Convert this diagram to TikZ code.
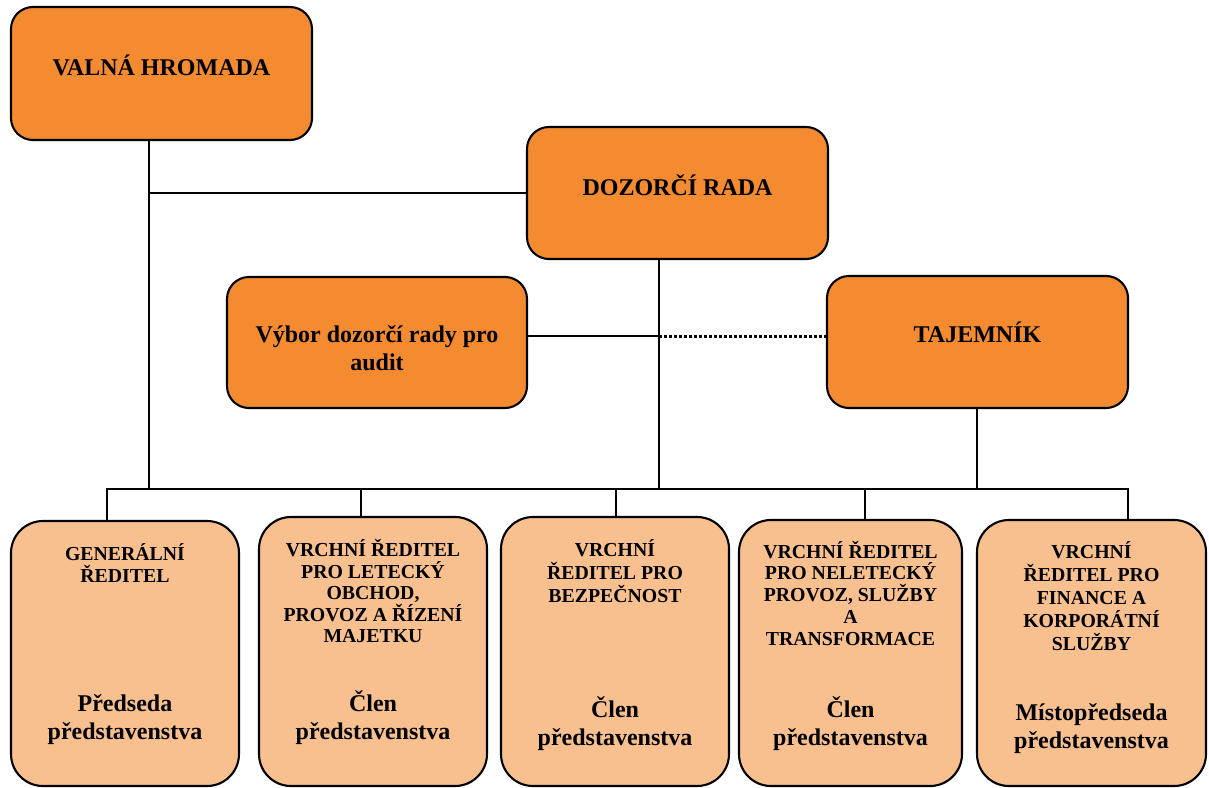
\documentclass[tikz,border=0pt]{standalone}
\usepackage{fontspec}
\setmainfont{Liberation Serif}
\definecolor{orangeD}{HTML}{F58B31}
\definecolor{orangeL}{HTML}{F8BF8F}
\begin{document}
\begin{tikzpicture}[x=1pt,y=-1pt,
  box/.style={draw=black, line width=2.1pt, inner sep=0pt},
  topbox/.style={box, fill=orangeD, rounded corners=22pt},
  lowbox/.style={box, fill=orangeL, rounded corners=32pt, minimum height=266pt},
  conn/.style={line width=2.8pt},
  dotconn/.style={line width=3pt, dash pattern=on 3pt off 2pt},
  bigtext/.style={font=\fontsize{24}{28}\selectfont\bfseries, align=center, inner sep=0pt},
  smalltext/.style={font=\fontsize{19.8}{22}\selectfont\bfseries, align=center, inner sep=0pt}
]
\useasboundingbox (0,0) rectangle (1209,787);

% upper level boxes
\node[topbox, minimum width=301pt, minimum height=133pt] (vh) at (161.5,73.5) {};
\node[topbox, minimum width=301pt, minimum height=132pt] (dr) at (677.5,193) {};
\node[topbox, minimum width=300pt, minimum height=131pt] (vy) at (377,342.5) {};
\node[topbox, minimum width=301pt, minimum height=132pt] (tj) at (977.5,342) {};

\node[bigtext] (vht) at (161.5,65) {VALNÁ HROMADA};
\node[bigtext] (drt) at (677.5,185) {DOZORČÍ RADA};
\node[bigtext] (vyt) at (377,348) {Výbor dozorčí rady pro\\audit};
\node[bigtext] (tjt) at (977.5,332) {TAJEMNÍK};

% board members
\node[lowbox, minimum width=228pt, minimum height=265pt] (b1) at (125,653.5) {};
\node[lowbox, minimum width=228pt, minimum height=269pt] (b2) at (373,651.5) {};
\node[lowbox, minimum width=228pt, minimum height=269pt] (b3) at (615,651.5) {};
\node[lowbox, minimum width=223pt, minimum height=266pt] (b4) at (850.5,653) {};
\node[lowbox, minimum width=229pt, minimum height=266pt] (b5) at (1091.5,653) {};

\node[smalltext] (b1a) at (125,563) {GENERÁLNÍ\\ŘEDITEL};
\node[bigtext] (b1b) at (125,720) {Předseda\\představenstva};

\node[smalltext, font=\fontsize{19.8}{21.5}\selectfont\bfseries] (b2a) at (373,591) {VRCHNÍ ŘEDITEL\\PRO LETECKÝ\\OBCHOD,\\PROVOZ A ŘÍZENÍ\\MAJETKU};
\node[bigtext] (b2b) at (373,717.5) {Člen\\představenstva};

\node[smalltext, font=\fontsize{19.8}{23}\selectfont\bfseries] (b3a) at (615,571) {VRCHNÍ\\ŘEDITEL PRO\\BEZPEČNOST};
\node[bigtext] (b3b) at (615,724) {Člen\\představenstva};

\node[smalltext, font=\fontsize{19.8}{21.75}\selectfont\bfseries] (b4a) at (850.5,593) {VRCHNÍ ŘEDITEL\\PRO NELETECKÝ\\PROVOZ, SLUŽBY\\A\\TRANSFORMACE};
\node[bigtext] (b4b) at (850.5,723.5) {Člen\\představenstva};

\node[smalltext, font=\fontsize{19.8}{23}\selectfont\bfseries] (b5a) at (1091.5,596) {VRCHNÍ\\ŘEDITEL PRO\\FINANCE A\\KORPORÁTNÍ\\SLUŽBY};
\node[bigtext] (b5b) at (1091.5,729) {Místopředseda\\představenstva};

% junction points on the common bus
\coordinate (j1) at (149,489);
\coordinate (j2) at (659,489);
\coordinate (j3) at (977,489);
\coordinate (aud) at (659,336);
\coordinate (d1) at (107,489);
\coordinate (d2) at (361,489);
\coordinate (d3) at (616,489);
\coordinate (d4) at (865,489);
\coordinate (d5) at (1128,489);

% connectors
\draw[conn] (j1 |- vh.south) -- (j1);
\draw[conn] (j1 |- dr.west) -- (dr.west);
\draw[conn] (j2 |- dr.south) -- (j2);
\draw[conn] (aud -| vy.east) -- (aud);
\draw[dotconn] (aud) -- (aud -| tj.west);
\draw[conn] (j3 |- tj.south) -- (j3);
\draw[conn, line cap=rect] (d1) -- (d5);
\draw[conn] (d1) -- (d1 |- b1.north);
\draw[conn] (d2) -- (d2 |- b2.north);
\draw[conn] (d3) -- (d3 |- b3.north);
\draw[conn] (d4) -- (d4 |- b4.north);
\draw[conn] (d5) -- (d5 |- b5.north);
\end{tikzpicture}
\end{document}
